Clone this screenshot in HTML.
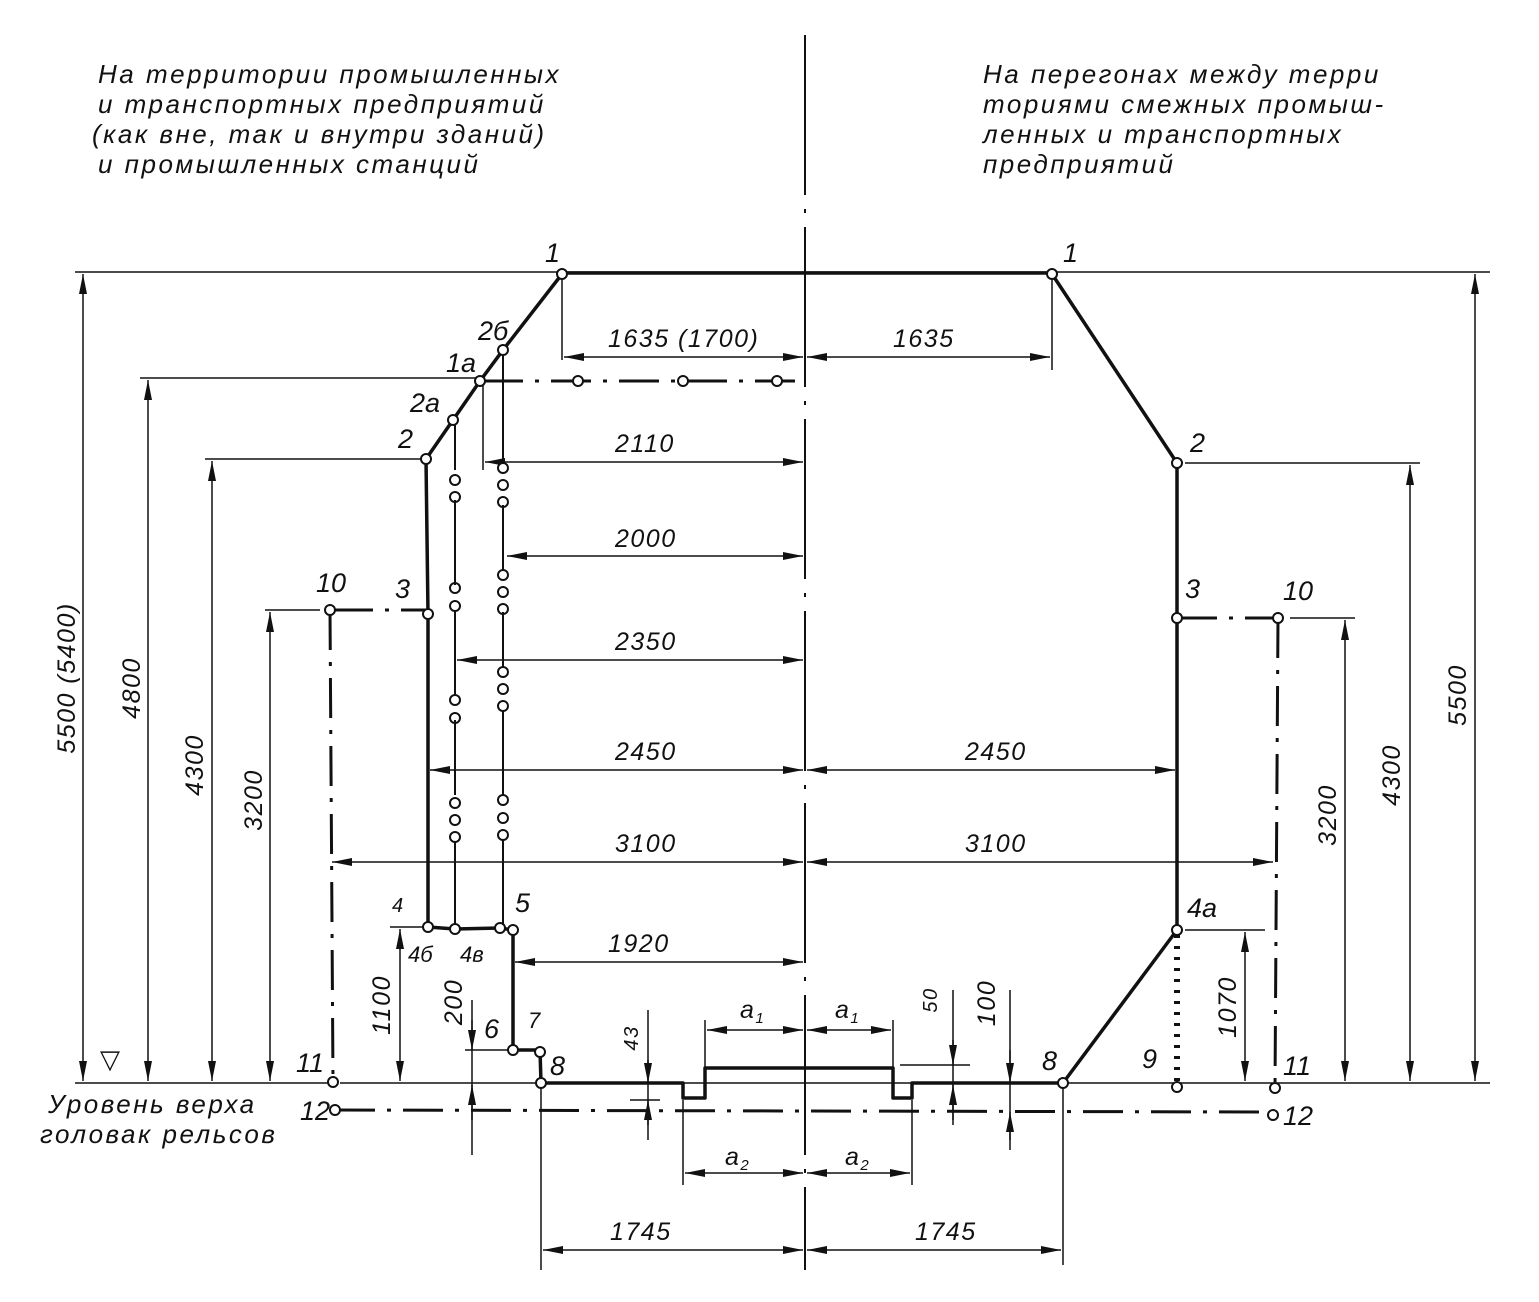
<!DOCTYPE html>
<html><head><meta charset="utf-8"><style>
html,body{margin:0;padding:0;background:#fff;}
svg{display:block;}
text{font-family:"Liberation Sans","DejaVu Sans",sans-serif;font-style:italic;fill:#111;}
.t{font-size:26px;letter-spacing:2.5px;}
.d{font-size:25px;letter-spacing:1.5px;}
.p{font-size:27px;}
</style></head><body>
<svg width="1539" height="1302" viewBox="0 0 1539 1302" xmlns="http://www.w3.org/2000/svg">
<defs>
<marker id="a" viewBox="0 0 20 8" refX="20" refY="4" markerWidth="20" markerHeight="8" orient="auto-start-reverse" markerUnits="userSpaceOnUse"><path d="M0,0 L20,4 L0,8 Z" fill="#111"/></marker>
</defs>
<g class="t">
<text x="98" y="83">На территории промышленных</text>
<text x="98" y="113">и транспортных предприятий</text>
<text x="92" y="143">(как вне, так и внутри зданий)</text>
<text x="98" y="173">и промышленных станций</text>
<text x="983" y="83">На перегонах между терри</text>
<text x="983" y="113">ториями смежных промыш-</text>
<text x="983" y="143">ленных и транспортных</text>
<text x="983" y="173">предприятий</text>
<text x="48" y="1113">Уровень верха</text>
<text x="40" y="1143">головак рельсов</text>
</g>
<line x1="805" y1="35" x2="805" y2="1270" stroke="#111" stroke-width="2" stroke-dasharray="160,14,4,14"/>
<g stroke="#111" stroke-width="1.5" fill="none">
<line x1="75" y1="272" x2="1490" y2="272"/>
<line x1="140" y1="378" x2="480" y2="378"/>
<line x1="205" y1="459" x2="426" y2="459"/>
<line x1="265" y1="610" x2="320" y2="610"/>
<line x1="1185" y1="463" x2="1420" y2="463"/>
<line x1="1290" y1="618" x2="1355" y2="618"/>
<line x1="1185" y1="930" x2="1265" y2="930"/>
<line x1="75" y1="1083" x2="330" y2="1083"/>
<line x1="340" y1="1083" x2="1490" y2="1083"/>
<line x1="390" y1="927" x2="428" y2="927"/>
<line x1="465" y1="1050" x2="513" y2="1050"/>
<line x1="562" y1="274" x2="562" y2="360"/>
<line x1="1052" y1="274" x2="1052" y2="370"/>
<line x1="483" y1="381" x2="483" y2="470"/>
<line x1="472" y1="1000" x2="472" y2="1155"/>
<line x1="541" y1="1083" x2="541" y2="1270"/>
<line x1="1063" y1="1083" x2="1063" y2="1265"/>
<line x1="683" y1="1100" x2="683" y2="1185"/>
<line x1="912" y1="1100" x2="912" y2="1185"/>
<line x1="705" y1="1020" x2="705" y2="1068"/>
<line x1="893" y1="1020" x2="893" y2="1068"/>
<line x1="648" y1="1010" x2="648" y2="1140"/>
<line x1="953" y1="990" x2="953" y2="1120"/>
<line x1="1010" y1="990" x2="1010" y2="1140"/>
<line x1="900" y1="1065" x2="970" y2="1065"/>
<line x1="630" y1="1100" x2="660" y2="1100"/>
</g>
<g stroke="#111" stroke-width="1.5" marker-start="url(#a)" marker-end="url(#a)">
<line x1="83" y1="274" x2="83" y2="1081"/>
<line x1="148" y1="380" x2="148" y2="1081"/>
<line x1="212" y1="461" x2="212" y2="1081"/>
<line x1="270" y1="612" x2="270" y2="1081"/>
<line x1="400" y1="929" x2="400" y2="1081"/>
<line x1="1475" y1="274" x2="1475" y2="1081"/>
<line x1="1410" y1="465" x2="1410" y2="1081"/>
<line x1="1345" y1="620" x2="1345" y2="1081"/>
<line x1="1245" y1="932" x2="1245" y2="1081"/>
<line x1="564" y1="357" x2="803" y2="357"/>
<line x1="807" y1="357" x2="1050" y2="357"/>
<line x1="485" y1="462" x2="803" y2="462"/>
<line x1="507" y1="556" x2="803" y2="556"/>
<line x1="457" y1="660" x2="803" y2="660"/>
<line x1="430" y1="770" x2="803" y2="770"/>
<line x1="807" y1="770" x2="1175" y2="770"/>
<line x1="332" y1="862" x2="803" y2="862"/>
<line x1="807" y1="862" x2="1273" y2="862"/>
<line x1="515" y1="962" x2="803" y2="962"/>
<line x1="707" y1="1030" x2="803" y2="1030"/>
<line x1="807" y1="1030" x2="891" y2="1030"/>
<line x1="685" y1="1173" x2="803" y2="1173"/>
<line x1="807" y1="1173" x2="910" y2="1173"/>
<line x1="543" y1="1250" x2="803" y2="1250"/>
<line x1="807" y1="1250" x2="1061" y2="1250"/>
</g>
<g stroke="#111" stroke-width="1.5" marker-end="url(#a)">
<line x1="472" y1="1020" x2="472" y2="1050"/>
<line x1="472" y1="1120" x2="472" y2="1085"/>
<line x1="648" y1="1060" x2="648" y2="1083"/>
<line x1="648" y1="1125" x2="648" y2="1100"/>
<line x1="953" y1="1040" x2="953" y2="1065"/>
<line x1="953" y1="1125" x2="953" y2="1085"/>
<line x1="1010" y1="1050" x2="1010" y2="1083"/>
<line x1="1010" y1="1150" x2="1010" y2="1112"/>
</g>
<g stroke="#111" stroke-width="3.5" fill="none" stroke-linejoin="round">
<polyline points="562,274 503,350 480,381 453,420 426,459 428,614 428,927 455,929 500,928 513,930 513,1050 540,1050 541,1083"/>
<polyline points="1052,274 1177,463 1177,618 1177,930 1063,1083"/>
<line x1="562" y1="273" x2="1052" y2="273"/>
<polyline points="541,1083 683,1083 683,1098 705,1098 705,1068 893,1068 893,1098 912,1098 912,1083 1063,1083"/>
</g>
<g stroke="#111" stroke-width="3" fill="none" stroke-dasharray="40,12,4,12">
<line x1="333" y1="610" x2="428" y2="610"/>
<line x1="1177" y1="618" x2="1278" y2="618"/>
<line x1="330" y1="610" x2="333" y2="1082"/>
<line x1="1278" y1="618" x2="1275" y2="1088"/>
<line x1="335" y1="1110" x2="1273" y2="1112"/>
<line x1="483" y1="381" x2="805" y2="381"/>
</g>
<line x1="1177" y1="935" x2="1177" y2="1085" stroke="#111" stroke-width="6" stroke-dasharray="3,8"/>
<g fill="#fff" stroke="#111" stroke-width="2">
<circle cx="562" cy="274" r="5"/><circle cx="1052" cy="274" r="5"/>
<circle cx="503" cy="350" r="5"/><circle cx="480" cy="381" r="5"/>
<circle cx="453" cy="420" r="5"/><circle cx="426" cy="459" r="5"/>
<circle cx="428" cy="614" r="5"/><circle cx="428" cy="927" r="5"/>
<circle cx="455" cy="929" r="5"/><circle cx="500" cy="928" r="5"/>
<circle cx="513" cy="930" r="5"/><circle cx="513" cy="1050" r="5"/>
<circle cx="540" cy="1052" r="5"/><circle cx="541" cy="1083" r="5"/>
<circle cx="1177" cy="463" r="5"/><circle cx="1177" cy="618" r="5"/>
<circle cx="1177" cy="930" r="5"/><circle cx="1063" cy="1083" r="5"/>
<circle cx="1177" cy="1087" r="5"/>
<circle cx="330" cy="610" r="5"/><circle cx="333" cy="1082" r="5"/><circle cx="335" cy="1110" r="5"/>
<circle cx="1278" cy="618" r="5"/><circle cx="1275" cy="1088" r="5"/><circle cx="1273" cy="1115" r="5"/>
<circle cx="578" cy="381" r="5"/><circle cx="683" cy="381" r="5"/><circle cx="777" cy="381" r="5"/>
<circle cx="455" cy="480" r="5"/><circle cx="455" cy="497" r="5"/>
<circle cx="455" cy="588" r="5"/><circle cx="455" cy="606" r="5"/>
<circle cx="455" cy="700" r="5"/><circle cx="455" cy="718" r="5"/>
<circle cx="455" cy="803" r="5"/><circle cx="455" cy="820" r="5"/><circle cx="455" cy="837" r="5"/>
<circle cx="503" cy="468" r="5"/><circle cx="503" cy="485" r="5"/><circle cx="503" cy="502" r="5"/>
<circle cx="503" cy="575" r="5"/><circle cx="503" cy="592" r="5"/><circle cx="503" cy="609" r="5"/>
<circle cx="503" cy="672" r="5"/><circle cx="503" cy="689" r="5"/><circle cx="503" cy="706" r="5"/>
<circle cx="503" cy="800" r="5"/><circle cx="503" cy="818" r="5"/><circle cx="503" cy="835" r="5"/>
</g>
<g stroke="#111" stroke-width="2">
<line x1="455" y1="425" x2="455" y2="470"/>
<line x1="503" y1="355" x2="503" y2="460"/>
<line x1="455" y1="720" x2="455" y2="795"/>
<line x1="503" y1="710" x2="503" y2="795"/>
<line x1="503" y1="840" x2="503" y2="925"/>
<line x1="455" y1="842" x2="455" y2="924"/>
<line x1="455" y1="610" x2="455" y2="695"/>
<line x1="503" y1="505" x2="503" y2="570"/>
<line x1="503" y1="612" x2="503" y2="668"/>
<line x1="455" y1="500" x2="455" y2="585"/>
</g>
<text x="100" y="1068" font-size="26" style="font-style:normal">▽</text>
<g class="p">
<text x="545" y="262">1</text><text x="1063" y="262">1</text>
<text x="478" y="340">2б</text><text x="446" y="372">1а</text>
<text x="410" y="412">2а</text><text x="398" y="448">2</text>
<text x="1190" y="452">2</text>
<text x="395" y="598">3</text><text x="1185" y="598">3</text>
<text x="316" y="592">10</text><text x="1283" y="600">10</text>
<text x="392" y="912" font-size="20">4</text><text x="515" y="912">5</text>
<text x="408" y="962" font-size="22">4б</text><text x="460" y="962" font-size="22">4в</text>
<text x="1187" y="917">4а</text>
<text x="484" y="1038">6</text><text x="528" y="1028" font-size="22">7</text>
<text x="550" y="1075">8</text><text x="1042" y="1070">8</text>
<text x="1142" y="1068">9</text>
<text x="296" y="1072">11</text><text x="1283" y="1075">11</text>
<text x="300" y="1120">12</text><text x="1283" y="1125">12</text>
</g>
<g class="d">
<text x="608" y="347">1635 (1700)</text><text x="893" y="347">1635</text>
<text x="615" y="452">2110</text><text x="615" y="547">2000</text>
<text x="615" y="650">2350</text><text x="615" y="760">2450</text>
<text x="965" y="760">2450</text><text x="615" y="852">3100</text>
<text x="965" y="852">3100</text><text x="608" y="952">1920</text>
<text x="740" y="1018">a<tspan font-size="15" dy="5">1</tspan></text>
<text x="835" y="1018">a<tspan font-size="15" dy="5">1</tspan></text>
<text x="725" y="1165">a<tspan font-size="15" dy="5">2</tspan></text>
<text x="845" y="1165">a<tspan font-size="15" dy="5">2</tspan></text>
<text x="610" y="1240">1745</text><text x="915" y="1240">1745</text>
</g>
<g class="d">
<text transform="translate(75,678) rotate(-90)" text-anchor="middle">5500 (5400)</text>
<text transform="translate(140,688) rotate(-90)" text-anchor="middle">4800</text>
<text transform="translate(203,765) rotate(-90)" text-anchor="middle">4300</text>
<text transform="translate(262,800) rotate(-90)" text-anchor="middle">3200</text>
<text transform="translate(390,1005) rotate(-90)" text-anchor="middle">1100</text>
<text transform="translate(462,1002) rotate(-90)" text-anchor="middle">200</text>
<text transform="translate(638,1038) rotate(-90)" text-anchor="middle" font-size="20">43</text>
<text transform="translate(937,1000) rotate(-90)" text-anchor="middle" font-size="20">50</text>
<text transform="translate(995,1003) rotate(-90)" text-anchor="middle">100</text>
<text transform="translate(1236,1007) rotate(-90)" text-anchor="middle">1070</text>
<text transform="translate(1336,815) rotate(-90)" text-anchor="middle">3200</text>
<text transform="translate(1400,775) rotate(-90)" text-anchor="middle">4300</text>
<text transform="translate(1466,695) rotate(-90)" text-anchor="middle">5500</text>
</g>
</svg>
</body></html>
